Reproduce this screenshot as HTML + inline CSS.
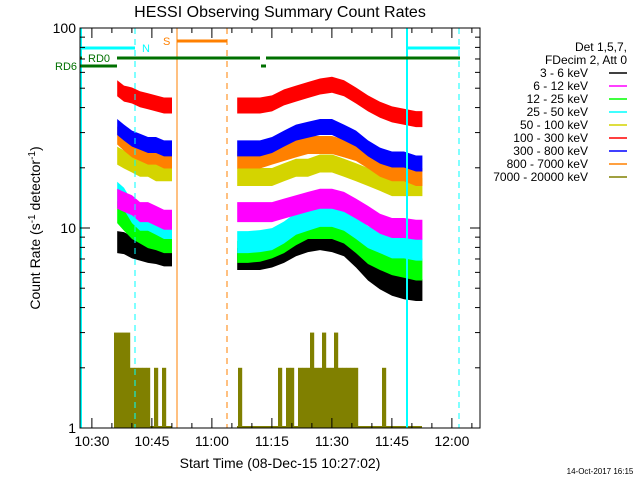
<!DOCTYPE html>
<html><head><meta charset="utf-8"><style>
body{margin:0;background:#fff;}
svg{display:block;font-family:"Liberation Sans",sans-serif;}
</style></head><body>
<svg id="chart" width="640" height="480" viewBox="0 0 640 480">
<rect width="640" height="480" fill="#fff"/>
<text x="280" y="17" font-size="16" text-anchor="middle">HESSI Observing Summary Count Rates</text>
<text transform="translate(40,228) rotate(-90)" font-size="14" text-anchor="middle">Count Rate (s<tspan dy="-5" font-size="10">-1</tspan><tspan dy="5"> detector</tspan><tspan dy="-5" font-size="10">-1</tspan><tspan dy="5">)</tspan></text>
<text x="280" y="468" font-size="14" text-anchor="middle">Start Time (08-Dec-15 10:27:02)</text>
<text x="600" y="474" font-size="8" text-anchor="middle">14-Oct-2017 16:15</text>
<g id="data"></g>
<g id="axes"></g>
<g id="legend"></g>
</svg>
<script>
const seg1Times=[9.3,11,13,15,17,19,21,23];
const seg2Times=[39.3,42,45,48,51,54,57,60,63,66,69,72,75,78,81,84,85.6];
const bandNames=["3 - 6 keV","6 - 12 keV","12 - 25 keV","25 - 50 keV","50 - 100 keV","100 - 300 keV","300 - 800 keV","800 - 7000 keV","7000 - 20000 keV"];
const bandColors=["#000000","#ff00ff","#00ff00","#00ffff","#d4d400","#ff0000","#0000ff","#ff8000","#808000"];
const black1=[8.5,8.4,8,7.8,7.6,7.5,7.3,7.3];
const black2=[7,7,7,7.2,7.6,8.2,8.6,8.8,8.6,8.2,7.2,6.2,5.6,5.2,5,4.9,4.9];
const magenta1=[14,13.5,13,12,12,11.5,11,11];
const magenta2=[12,12,12,12,12.5,13,13.5,14,14,13.5,12.5,11.5,10.5,10,10,9.8,9.8];
const green1=[12,11,10,9.5,9,8.8,8.5,8.5];
const green2=[7.6,7.6,7.7,8,8.5,9.3,10,10,10,9.5,8.5,7.5,7,6.6,6.4,6.2,6.2];
const cyan1=[15,14,12,11,11,10.5,10,10];
const cyan2=[8.5,8.5,8.6,8.8,9.5,10.5,11,11.5,11.5,11,10,9,8.5,8,8,7.8,7.8];
const yellow1=[23,22,21,20,20,19,19,19];
const yellow2=[18,18,18,18,19,20,20,21,21,20,19,18,17,16,16,16,16];
const red1=[50,47,46,44,43,42,41,41];
const red2=[41,41,41,42,45,47,49,51,52,50,46,42,39,37,36,35,35];
const blue1=[32,30,28,27,26,26,25,25];
const blue2=[25,25,25,26,28,30,31,32,32,30,28,25,23,22,22,21,21];
const orange1=[29,27,25,24,23,23,22,22];
const orange2=[22,22,22,23,24,25,26,26,26,25,24,22,20,19,19,18,18];
const oliveStart=9;
const olive=[3,3,3,3,2,2,2,2,2,1,2,1,2,1,1,0,0,0,0,0,0,0,0,0,0,0,0,0,0,0,
0,2,0,0,0,0,0,0,0,1,0,2,1,2,2,1,2,2,2,3,2,2,3,2,2,3,2,2,2,2,2,1,0,0,0,0,0,2,0,0,0,0,0,0,0,0,0,0];
const xTickLabels=["10:30","10:45","11:00","11:15","11:30","11:45","12:00"];
const xTickMinutes=[2.97,17.97,32.97,47.97,62.97,77.97,92.97];
const yTickLabels=["1","10","100"];
const yTickValues=[1,10,100];

const NS="http://www.w3.org/2000/svg";
const X0=80,X1=480,Y0=28,Y1=428;
const xs=t=>X0+t*4;
const ys=v=>Y1-200*Math.log10(v);
function mk(tag,attrs,parent){const e=document.createElementNS(NS,tag);for(const k in attrs)e.setAttribute(k,attrs[k]);parent.appendChild(e);return e;}
const data=document.getElementById('data'),axes=document.getElementById('axes'),leg=document.getElementById('legend');

olive.forEach((v,i)=>{
  if(v<=1)return;
  const r=mk('rect',{x:xs(oliveStart+i)-2,y:ys(v),width:4.2,height:Y1-ys(v),fill:bandColors[8]},data);
  
  
});
[[117,172],[237,422]].forEach(s=>{const l=mk('line',{x1:s[0],x2:s[1],y1:427,y2:427,stroke:bandColors[8],'stroke-width':2},data);
  
  });

const series=[[black1,black2,0,11],[green1,green2,2,11],[cyan1,cyan2,3,11],[magenta1,magenta2,1,10],[yellow1,yellow2,4,9],[orange1,orange2,7,9],[blue1,blue2,6,8],[red1,red2,5,8]];
series.forEach(([a,b,ci,h])=>{
  [[seg1Times,a],[seg2Times,b]].forEach(([ts,vs])=>{
    let top=ts.map((t,i)=>xs(t)+','+(ys(vs[i])-h)).join(' ');
    let bot=ts.map((t,i)=>xs(t)+','+(ys(vs[i])+h)).reverse().join(' ');
    const p=mk('polygon',{points:top+' '+bot,fill:bandColors[ci]},data);
    
    
  });
});

const vl=(x,c,d,n,w)=>{const l=mk('line',{x1:x,x2:x,y1:Y0,y2:Y1,stroke:c,'stroke-width':w,'stroke-dasharray':d||''},data);
  
  };
vl(81,'#00ffff','','saa-start-line',2);vl(135,'#00ffff','6,5','night-line',1);vl(407,'#00ffff','','saa-line',2);vl(459,'#00ffff','6,5','night-line-2',1);
vl(177,'#ff8000','','saa-s-start',1);vl(227,'#ff8000','6,5','saa-s-end',1);
const hl=(x1,x2,y,c,w,n)=>{const l=mk('line',{x1:x1,x2:x2,y1:y,y2:y,stroke:c,'stroke-width':w},data);
  
  };
hl(80,135,48,'#00ffff',3,'night-bar');hl(407,460,48,'#00ffff',3,'night-bar-2');
hl(177,227,41,'#ff8000',3,'saa-bar');
hl(117,260,58,'#007000',3,'rd0-bar');hl(266,460,58,'#007000',3,'rd0-bar-2');
hl(80,117,66,'#007000',3,'rd6-bar');hl(261,266,66,'#007000',3,'rd6-bar-2');hl(80,82,58,'#007000',3,'rd0-dot');
const tx=(x,y,s,c,n,a)=>{const t=mk('text',{x:x,y:y,fill:c,'font-size':11,'text-anchor':a||'start'},data);t.textContent=s;
  
  };
tx(142,52,'N','#00ffff','night-label');tx(163,45,'S','#ff8000','saa-label');tx(88,62,'RD0','#007000','rd0-label');tx(55,70,'RD6','#007000','rd6-label');

mk('rect',{x:X0,y:Y0,width:X1-X0,height:Y1-Y0,fill:'none',stroke:'#000','stroke-width':1},axes);
for(let m=0;m<=100;m+=5){
  const x=xs(m+2.97);if(x>X1)break;
  const major=(m%15===0);const L=major?10:5;
  mk('line',{x1:x,x2:x,y1:Y1,y2:Y1-L,stroke:'#000'},axes);
  mk('line',{x1:x,x2:x,y1:Y0,y2:Y0+L,stroke:'#000'},axes);
}
xTickLabels.forEach((s,i)=>{const t=mk('text',{x:xs(xTickMinutes[i]),y:446,'font-size':14,'text-anchor':'middle'},axes);t.textContent=s;
  
  });
for(let d=1;d<=100;d*=10){for(let k=1;k<10;k++){const v=d*k;if(v>100)break;const y=ys(v);const L=k===1?10:5;
  mk('line',{x1:X0,x2:X0+L,y1:y,y2:y,stroke:'#000'},axes);mk('line',{x1:X1,x2:X1-L,y1:y,y2:y,stroke:'#000'},axes);}}
yTickLabels.forEach((s,i)=>{const t=mk('text',{x:76,y:ys(yTickValues[i])+5,'font-size':14,'text-anchor':'end'},axes);t.textContent=s;
  
  });

const lt=(y,s)=>{const t=mk('text',{x:627,y:y,'font-size':12,'text-anchor':'end'},leg);t.textContent=s;
  
  };
lt(51,'Det 1,5,7,');lt(64,'FDecim 2, Att 0');
bandNames.forEach((n,i)=>{const y=77+i*13;
  const t=mk('text',{x:588,y:y,'font-size':12,'text-anchor':'end'},leg);t.textContent=n;
  
  
  const l=mk('line',{x1:609,x2:627,y1:y-4,y2:y-4,stroke:bandColors[i],'stroke-width':1.5},leg);
  
  });
</script>
</body></html>
